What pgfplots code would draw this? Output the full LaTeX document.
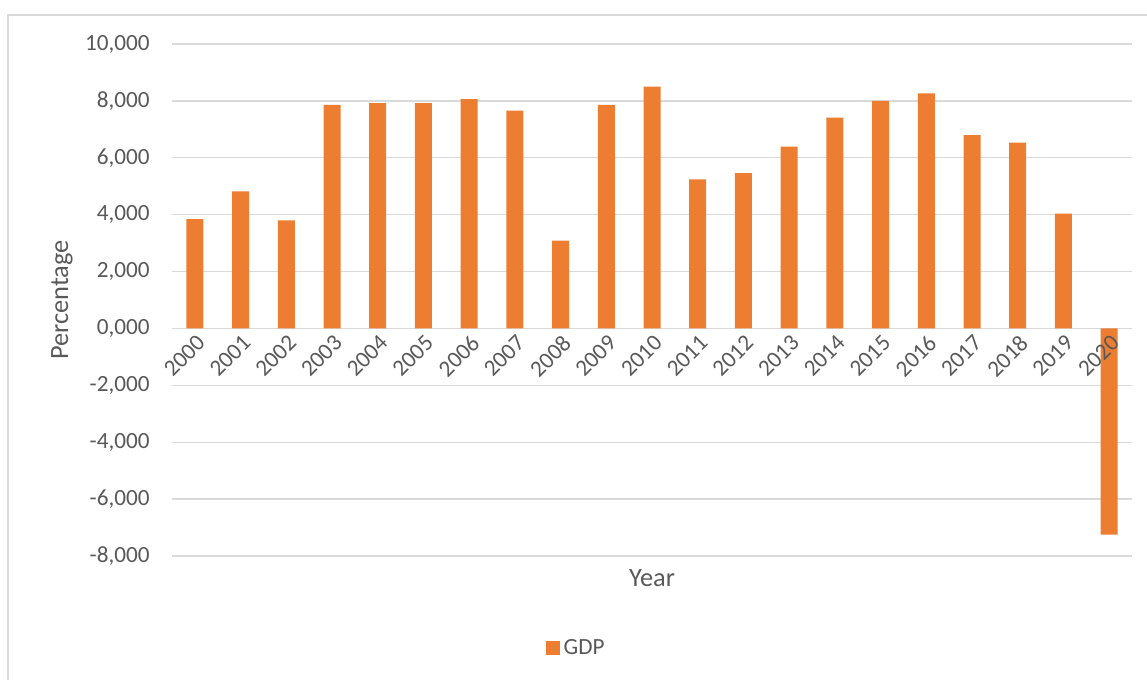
\documentclass[border=0pt]{standalone}
\usepackage{pgfplots}
\pgfplotsset{compat=1.18}
\usepackage{fontspec}
\setmainfont{Carlito}
\definecolor{bar}{HTML}{ED7D31}
\definecolor{gridc}{HTML}{D9D9D9}
\definecolor{txt}{HTML}{595959}

\pgfplotsset{
  frame/.style={
    at={(86pt,62pt)}, anchor=south west,
    scale only axis, width=480pt, height=256pt,
    xmin=1999.5, xmax=2020.5, ymin=-8, ymax=10,
    major tick length=0pt,
  },
}

\begin{document}
\begin{tikzpicture}
% chart area frame
\draw[gridc, line width=0.6pt] (4pt,-20pt) rectangle (600pt,332.5pt);
\begin{axis}[
  frame,
  axis x line=middle, axis y line=left,
  x axis line style={draw=gridc, line width=0.7pt, -},
  y axis line style={draw=none},
  hide obscured y ticks=false,
  xtick={2000,...,2020}, xticklabels={},
  ytick={-8,-6,...,10},
  yticklabels={{-8,000},{-6,000},{-4,000},{-2,000},{0,000},{2,000},{4,000},{6,000},{8,000},{10,000}},
  yticklabel style={inner sep=0pt, xshift=-11pt, font=\fontsize{11.6}{14}\selectfont, text=txt},
  ymajorgrids, grid style={gridc, line width=0.7pt},
  xlabel={Year}, ylabel={Percentage},
  xlabel style={at={(axis description cs:0.5,-0.043)}, anchor=center,
    font=\fontsize{13.2}{16}\selectfont, text=txt},
  ylabel style={at={(axis description cs:-0.1146,0.5)}, anchor=center,
    font=\fontsize{13.2}{16}\selectfont, text=txt},
  legend style={at={(axis description cs:0.422,-0.18)}, anchor=center, draw=none, fill=none,
    font=\fontsize{11.6}{14}\selectfont, text=txt, inner sep=0pt},
  ybar, bar width=8.5pt,
]
\addplot[fill=bar, draw=none,
  legend image code/.code={\fill[bar] (0pt,-3.5pt) rectangle (7pt,3.5pt);}]
  coordinates {
  (2000,3.84) (2001,4.82) (2002,3.80) (2003,7.86) (2004,7.92) (2005,7.92)
  (2006,8.06) (2007,7.66) (2008,3.09) (2009,7.86) (2010,8.50) (2011,5.24)
  (2012,5.46) (2013,6.39) (2014,7.41) (2015,8.00) (2016,8.26) (2017,6.80)
  (2018,6.53) (2019,4.04) (2020,-7.25)
};
\addlegendentry{GDP}
\end{axis}
% year labels drawn over the bars
\begin{axis}[
  frame,
  axis x line=middle, axis y line=none,
  x axis line style={draw=none},
  hide obscured x ticks=false,
  ytick=\empty,
  xtick={2000,...,2020},
  xticklabels={2000,2001,2002,2003,2004,2005,2006,2007,2008,2009,2010,2011,2012,2013,2014,2015,2016,2017,2018,2019,2020},
  xticklabel style={rotate=45, anchor=north east, inner sep=0pt, xshift=-1.5pt, yshift=-2pt,
    font=\fontsize{11.6}{14}\selectfont, text=txt},
]
\end{axis}
\pgfresetboundingbox
\useasboundingbox (0,0) rectangle (573.5pt,340pt);
\end{tikzpicture}
\end{document}
